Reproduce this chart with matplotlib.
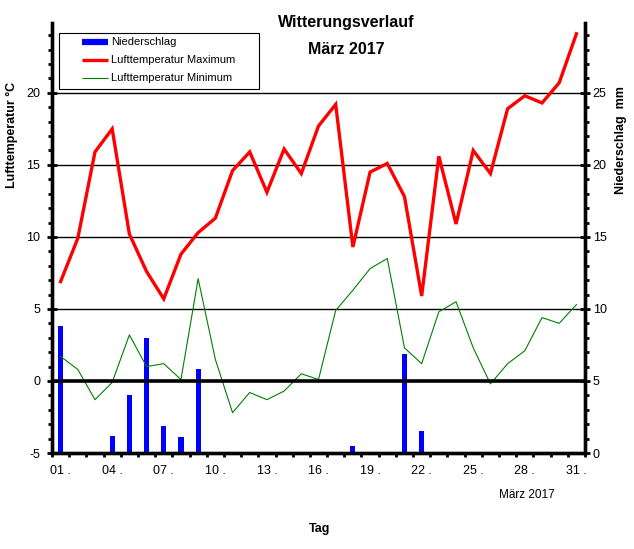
import numpy as np
import matplotlib
matplotlib.use('Agg')
import matplotlib.pyplot as plt
from matplotlib.lines import Line2D
from matplotlib.patches import Rectangle
from matplotlib.ticker import MultipleLocator

plt.rcParams['font.family'] = ['Liberation Sans', 'DejaVu Sans']
plt.rcParams['axes.unicode_minus'] = False

days = list(range(1, 32))
t_max = [6.9, 9.9, 15.9, 17.5, 10.2, 7.6, 5.7, 8.8, 10.3, 11.3, 14.6, 15.9, 13.1, 16.1, 14.4,
         17.7, 19.2, 9.3, 14.5, 15.1, 12.8, 5.9, 15.6, 10.9, 16.0, 14.4, 18.9, 19.8, 19.3, 20.7, 24.1]
t_min = [1.7, 0.8, -1.3, -0.1, 3.2, 1.0, 1.2, 0.1, 7.1, 1.5, -2.2, -0.8, -1.3, -0.7, 0.5,
         0.1, 4.9, 6.3, 7.8, 8.5, 2.3, 1.2, 4.8, 5.5, 2.3, -0.2, 1.2, 2.1, 4.4, 4.0, 5.3]
rain_days = [1, 4, 5, 6, 7, 8, 9, 18, 21, 22]
rain_mm = [8.8, 1.2, 4.0, 8.0, 1.9, 1.1, 5.8, 0.5, 6.9, 1.5]
label_days = days[::3]
label_text = ['%02d .' % d for d in label_days]

W, H = 634, 549
fig = plt.figure(figsize=(W/100, H/100), dpi=100)
ax = fig.add_axes([52/W, 1-453/H, 533/W, 430/H])
ax2 = ax.twinx()

ax2.bar(rain_days, rain_mm, width=0.3, color='#0000ff', zorder=2)
ax2.set_ylim(0, 29.85)

ax.set_zorder(ax2.get_zorder() + 1)
ax.patch.set_visible(False)

for v in [5, 10, 15, 20]:
    ax.axhline(v, color='black', lw=1.0, zorder=1)
ax.axhline(0, color='black', lw=2.6, zorder=4)

ax.plot(days, t_max, color='#ff0000', lw=2.4, zorder=3, solid_joinstyle='miter')
ax.plot(days, t_min, color='#008000', lw=0.8, zorder=3)

ax.set_xlim(0.5, 31.5)
ax.set_ylim(-5, 24.85)

for a in (ax, ax2):
    a.spines['top'].set_visible(False)
    for s in ('left', 'right', 'bottom'):
        a.spines[s].set_linewidth(2.4)

# x ticks: marks between days, labels on days
ax.set_xticks(label_days)
ax.set_xticklabels(label_text, fontsize=9)
ax.tick_params(axis='x', which='major', length=0, pad=9)
ax.set_xticks(np.arange(0.5, 32, 1.0), minor=True)
ax.tick_params(axis='x', which='minor', length=3, width=2, direction='out')

ax.set_yticks([-5, 0, 5, 10, 15, 20])
ax.yaxis.set_minor_locator(MultipleLocator(1))
ax.tick_params(axis='y', which='major', length=7, width=2, direction='inout', labelsize=9, pad=5)
ax.tick_params(axis='y', which='minor', length=3, width=2, direction='out')

ax2.set_yticks([0, 5, 10, 15, 20, 25])
ax2.yaxis.set_minor_locator(MultipleLocator(1))
ax2.tick_params(axis='y', which='major', length=7, width=2, direction='inout', labelsize=9, pad=2)
ax2.tick_params(axis='y', which='minor', length=3, width=2, direction='out')

fig.text(346/W, 1-22/H, 'Witterungsverlauf', ha='center', va='center', fontsize=11.5, fontweight='bold')
fig.text(346/W, 1-50/H, 'März 2017', ha='center', va='center', fontsize=11.5, fontweight='bold')
fig.text(12/W, 1-135/H, 'Lufttemperatur °C', rotation=90, ha='center', va='center', fontsize=9, fontweight='bold')
fig.text(621/W, 1-140/H, 'Niederschlag  mm', rotation=90, ha='center', va='center', fontsize=9, fontweight='bold')
fig.text(527/W, 1-495/H, 'März 2017', ha='center', va='center', fontsize=8.5)
fig.text(320/W, 1-529/H, 'Tag', ha='center', va='center', fontsize=9, fontweight='bold')

# legend box drawn by hand to match the original spacing
fig.add_artist(Rectangle((59/W, 1-89/H), 200/W, 56/H, transform=fig.transFigure,
                         facecolor='white', edgecolor='black', lw=0.8, zorder=10))
leg_items = [('Niederschlag', '#0000ff', 4.5), ('Lufttemperatur Maximum', '#ff0000', 2.4),
             ('Lufttemperatur Minimum', '#008000', 0.8)]
for i, (txt, col, lw) in enumerate(leg_items):
    yy = 1 - (42 + 18*i)/H
    fig.add_artist(Line2D([82/W, 108/W], [yy, yy], transform=fig.transFigure,
                          color=col, lw=lw, solid_capstyle='butt', zorder=11))
    fig.text(111/W, yy, txt, ha='left', va='center', fontsize=8, zorder=12)

fig.savefig('out.png', dpi=100)
